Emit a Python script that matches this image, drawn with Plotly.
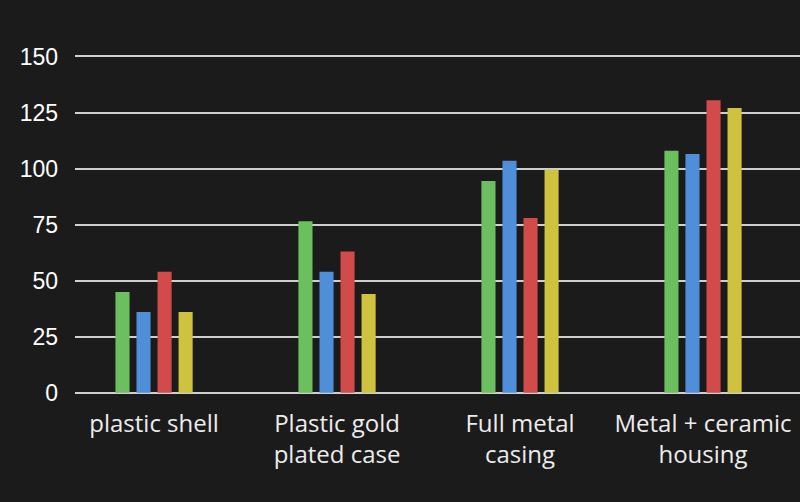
import plotly.graph_objects as go

categories = ["plastic shell", "Plastic gold<br>plated case", "Full metal<br>casing", "Metal + ceramic<br>housing"]
series_names = ["Series 1", "Series 2", "Series 3", "Series 4"]
green_vals = [45, 76.5, 94.5, 108]
blue_vals = [36, 54, 103.5, 106.5]
red_vals = [54, 63, 78, 130.5]
yellow_vals = [36, 44, 99.5, 127]
colors = ["#6cbf5f", "#4f8ed8", "#d24b4b", "#cec23f"]
y_ticks = [0, 25, 50, 75, 100, 125, 150]

fig = go.Figure()
for name, vals, c in zip(series_names, [green_vals, blue_vals, red_vals, yellow_vals], colors):
    fig.add_trace(go.Bar(x=categories, y=vals, name=name, marker=dict(color=c, line=dict(width=0))))

fig.update_layout(
    width=800, height=502,
    paper_bgcolor="#1b1b1b", plot_bgcolor="#1b1b1b",
    margin=dict(l=75, r=0, t=52, b=107),
    barmode="group", bargap=0.54, bargroupgap=0.33,
    showlegend=False,
    xaxis=dict(range=[-0.432, 3.53], showgrid=False, zeroline=False, showline=False,
               tickfont=dict(family="Open Sans", size=24, color="#ececec"),
               ticks="", ticklabelstandoff=12),
    yaxis=dict(range=[-1, 152], tickvals=y_ticks, showgrid=True, gridcolor="#cfcfcf", gridwidth=2,
               zeroline=False, showline=False,
               tickfont=dict(family="Liberation Sans", size=23, color="#ffffff"),
               ticks="", ticklabelstandoff=16),
)
fig.write_html("out.html", config={"displayModeBar": False},
               post_script="document.body.style.margin='0';document.body.style.background='#1b1b1b';")
